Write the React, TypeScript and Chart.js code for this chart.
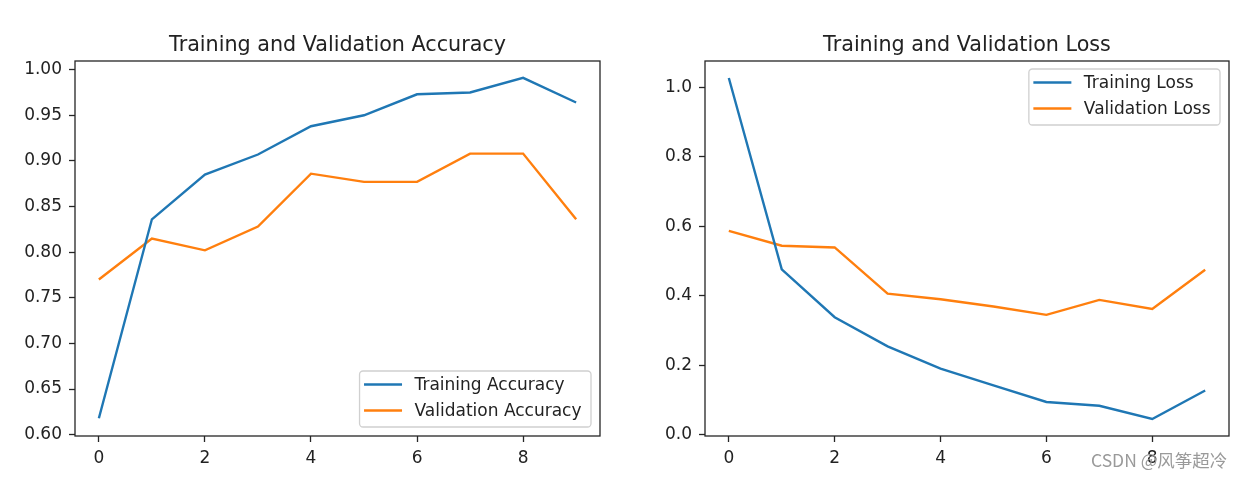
import React, { useEffect, useRef } from "react";
import { Chart, registerables } from "chart.js";

Chart.register(...registerables);

// ---- data ----
const epochs = [0, 1, 2, 3, 4, 5, 6, 7, 8, 9];
const trainAcc = [0.618, 0.836, 0.885, 0.907, 0.938, 0.95, 0.973, 0.975, 0.991, 0.964];
const valAcc = [0.77, 0.815, 0.802, 0.828, 0.886, 0.877, 0.877, 0.908, 0.908, 0.836];
const trainLoss = [1.027, 0.476, 0.338, 0.254, 0.19, 0.142, 0.094, 0.083, 0.045, 0.127];
const valLoss = [0.587, 0.544, 0.539, 0.406, 0.39, 0.369, 0.345, 0.388, 0.362, 0.475];
const epochTicks = [0, 2, 4, 6, 8];
const accTicks = [0.6, 0.65, 0.7, 0.75, 0.8, 0.85, 0.9, 0.95, 1.0];
const lossTicks = [0.0, 0.2, 0.4, 0.6, 0.8, 1.0];

const BLUE = "#1f77b4";
const ORANGE = "#ff7f0e";
const FONT = "DejaVu Sans";
const TEXT = "#222222";
const SMALL = 17;

const boxPlugin = {
  id: "axbox",
  afterDatasetsDraw(chart: any) {
    const { ctx, chartArea: a } = chart;
    ctx.save();
    ctx.strokeStyle = "#262626";
    ctx.lineWidth = 1.3;
    ctx.strokeRect(a.left, a.top, a.right - a.left, a.bottom - a.top);
    ctx.restore();
  },
};

const titlePlugin = {
  id: "axTitle",
  afterDraw(chart: any, _args: any, opts: any) {
    const { ctx, chartArea: a } = chart;
    ctx.save();
    ctx.font = `20.7px "${FONT}"`;
    ctx.fillStyle = TEXT;
    ctx.textAlign = "center";
    ctx.textBaseline = "alphabetic";
    ctx.fillText(opts.text, (a.left + a.right) / 2, a.top - 10);
    ctx.restore();
  },
};

function roundRectPath(ctx: CanvasRenderingContext2D, x: number, y: number, w: number, h: number, r: number) {
  ctx.beginPath();
  ctx.moveTo(x + r, y);
  ctx.lineTo(x + w - r, y);
  ctx.arcTo(x + w, y, x + w, y + r, r);
  ctx.lineTo(x + w, y + h - r);
  ctx.arcTo(x + w, y + h, x + w - r, y + h, r);
  ctx.lineTo(x + r, y + h);
  ctx.arcTo(x, y + h, x, y + h - r, r);
  ctx.lineTo(x, y + r);
  ctx.arcTo(x, y, x + r, y, r);
  ctx.closePath();
}

const legendPlugin = {
  id: "mplLegend",
  afterDraw(chart: any, _args: any, opts: any) {
    const { ctx, chartArea: a } = chart;
    ctx.save();
    ctx.font = `${SMALL}px "${FONT}"`;
    const items = chart.data.datasets;
    const tw = Math.max(...items.map((d: any) => ctx.measureText(d.label).width));
    const w = 55 + tw + 9.5;
    const h = 56;
    const x = a.right - 9 - w;
    const y = opts.loc === "upper right" ? a.top + 8 : a.bottom - 9 - h;
    roundRectPath(ctx, x, y, w, h, 3.5);
    ctx.fillStyle = "rgba(255,255,255,0.8)";
    ctx.fill();
    ctx.strokeStyle = "#d0d0d0";
    ctx.lineWidth = 1.3;
    ctx.stroke();
    items.forEach((d: any, i: number) => {
      const cy = y + 13.5 + i * 26;
      ctx.strokeStyle = d.borderColor;
      ctx.lineWidth = 2.4;
      ctx.beginPath();
      ctx.moveTo(x + 4.5, cy);
      ctx.lineTo(x + 42.5, cy);
      ctx.stroke();
      ctx.fillStyle = TEXT;
      ctx.textBaseline = "middle";
      ctx.textAlign = "left";
      ctx.fillText(d.label, x + 55, cy + 1.5);
    });
    ctx.restore();
  },
};

function makeConfig(p: {
  title: string;
  labels: [string, string];
  series: [number[], number[]];
  yMin: number;
  yMax: number;
  yTicks: number[];
  decimals: number;
  yWidth: number;
  padRight: number;
  loc: string;
}): any {
  const tickFont = { family: FONT, size: SMALL };
  const gridOpts = {
    display: true,
    drawOnChartArea: false,
    drawTicks: true,
    tickLength: 6,
    tickWidth: 1.3,
    tickColor: "#262626",
    color: "#262626",
  };
  return {
    type: "line",
    data: {
      datasets: [
        {
          label: p.labels[0],
          data: epochs.map((e, i) => ({ x: e, y: p.series[0][i] })),
          borderColor: BLUE,
          backgroundColor: BLUE,
          borderWidth: 2.4,
          pointRadius: 0,
          tension: 0,
          fill: false,
        },
        {
          label: p.labels[1],
          data: epochs.map((e, i) => ({ x: e, y: p.series[1][i] })),
          borderColor: ORANGE,
          backgroundColor: ORANGE,
          borderWidth: 2.4,
          pointRadius: 0,
          tension: 0,
          fill: false,
        },
      ],
    },
    options: {
      animation: false,
      responsive: false,
      devicePixelRatio: 1,
      layout: { padding: { left: 0, right: p.padRight, top: 61, bottom: 0 } },
      plugins: {
        legend: { display: false },
        tooltip: { enabled: false },
        title: { display: false },
        axTitle: { text: p.title },
        mplLegend: { loc: p.loc },
      },
      scales: {
        x: {
          type: "linear",
          min: -0.45,
          max: 9.45,
          afterBuildTicks: (ax: any) => {
            ax.ticks = epochTicks.map((v) => ({ value: v }));
          },
          afterFit: (s: any) => {
            s.height = 42;
          },
          grid: gridOpts,
          border: { display: false },
          ticks: {
            font: tickFont,
            color: TEXT,
            padding: 6,
            maxRotation: 0,
            autoSkip: false,
            callback: (v: any) => String(v),
          },
        },
        y: {
          type: "linear",
          min: p.yMin,
          max: p.yMax,
          afterBuildTicks: (ax: any) => {
            ax.ticks = p.yTicks.map((v) => ({ value: v }));
          },
          afterFit: (s: any) => {
            s.width = p.yWidth;
          },
          grid: gridOpts,
          border: { display: false },
          ticks: {
            font: tickFont,
            color: TEXT,
            padding: 7,
            autoSkip: false,
            callback: (v: any) => Number(v).toFixed(p.decimals),
          },
        },
      },
    },
    plugins: [boxPlugin, titlePlugin, legendPlugin],
  };
}

function ChartCanvas({ config, width, height, left }: { config: any; width: number; height: number; left: number }) {
  const ref = useRef<HTMLCanvasElement | null>(null);
  useEffect(() => {
    if (!ref.current) return;
    const chart = new Chart(ref.current, config);
    return () => chart.destroy();
  }, [config]);
  return (
    <canvas
      ref={ref}
      width={width}
      height={height}
      style={{ position: "absolute", left, top: 0, width, height }}
    />
  );
}

const accConfig = makeConfig({
  title: "Training and Validation Accuracy",
  labels: ["Training Accuracy", "Validation Accuracy"],
  series: [trainAcc, valAcc],
  yMin: 0.5985,
  yMax: 1.0095,
  yTicks: accTicks,
  decimals: 2,
  yWidth: 75,
  padRight: 20,
  loc: "lower right",
});

const lossConfig = makeConfig({
  title: "Training and Validation Loss",
  labels: ["Training Loss", "Validation Loss"],
  series: [trainLoss, valLoss],
  yMin: -0.004,
  yMax: 1.076,
  yTicks: lossTicks,
  decimals: 1,
  yWidth: 85,
  padRight: 14,
  loc: "upper right",
});

export default function App() {
  return (
    <div
      style={{
        position: "fixed",
        left: 0,
        top: 0,
        width: 1243,
        height: 478,
        background: "#ffffff",
        overflow: "hidden",
      }}
    >
      <ChartCanvas config={accConfig} width={620} height={478} left={0} />
      <ChartCanvas config={lossConfig} width={623} height={478} left={620} />
      <div
        style={{
          position: "absolute",
          left: 1091,
          top: 449,
          fontFamily: '"Noto Sans CJK SC", "Liberation Sans", sans-serif',
          fontSize: 17.5,
          lineHeight: "22px",
          color: "#9a9a9a",
          whiteSpace: "nowrap",
        }}
      >
        CSDN @风筝超冷
      </div>
    </div>
  );
}
